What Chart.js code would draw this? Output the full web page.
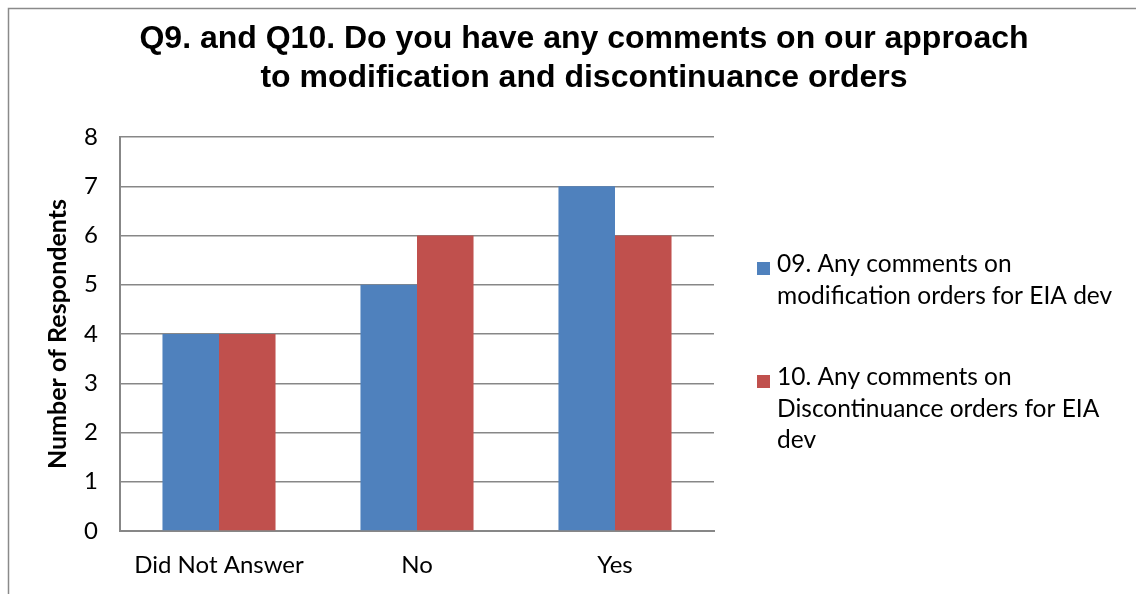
<!DOCTYPE html>
<html>
<head>
<meta charset="utf-8">
<script src="https://cdn.jsdelivr.net/npm/chart.js@4/dist/chart.umd.min.js"></script>
<style>
    body { margin: 0; overflow: hidden; background: #fff; }
    canvas { display: block; }
</style>
</head>
<body>
<canvas id="survey-chart" width="1168" height="594"></canvas>
<script>
    const categories = ['Did Not Answer', 'No', 'Yes']
    const modificationCounts = [4, 5, 7]
    const discontinuanceCounts = [4, 6, 6]
    const modificationLabel = ['09. Any comments on', 'modification orders for EIA dev']
    const discontinuanceLabel = ['10. Any comments on', 'Discontinuance orders for EIA', 'dev']
    const titleLines = ['Q9. and Q10. Do you have any comments on our approach', 'to modification and discontinuance orders']
    const yMin = 0
    const yMax = 8

    const bodyFont = '"Lato", "Open Sans", sans-serif'
    const gridColor = '#878787'

    // outer frame, title and the wrapped legend are drawn by hand
    const decorations = {
        id: 'decorations',
        beforeDraw(chart) {
            let ctx = chart.ctx
            ctx.save()
            ctx.fillStyle = '#fff'
            ctx.fillRect(0, 0, chart.width, chart.height)
            ctx.strokeStyle = '#8a8a8a'
            ctx.lineWidth = 1.5
            ctx.strokeRect(8.5, 8.5, 2000, 2000)
            ctx.restore()
        },
        afterDraw(chart) {
            let ctx = chart.ctx
            ctx.save()
            ctx.fillStyle = '#000'
            ctx.textAlign = 'center'
            ctx.textBaseline = 'alphabetic'
            ctx.font = 'bold 32px "Liberation Sans", Arial, sans-serif'
            titleLines.forEach((line, i) => ctx.fillText(line, 584, 48 + i * 39))

            ctx.textAlign = 'left'
            ctx.font = '24.5px ' + bodyFont
            let tops = [272, 385]
            chart.data.datasets.forEach((ds, i) => {
                ctx.fillStyle = ds.backgroundColor
                ctx.fillRect(757, tops[i] - 10, 13, 13)
                ctx.fillStyle = '#000'
                ds.label.forEach((line, j) => ctx.fillText(line, 777, tops[i] + j * 31.5))
            })
            ctx.restore()
        }
    }

    let chartElement = document.getElementById('survey-chart').getContext('2d')

    let surveyChart = new Chart(chartElement, {
        type: 'bar',
        data: {
            labels: categories,
            datasets: [
                {
                    label: modificationLabel,
                    data: modificationCounts,
                    backgroundColor: '#4F81BD'
                },
                {
                    label: discontinuanceLabel,
                    data: discontinuanceCounts,
                    backgroundColor: '#C0504D'
                }
            ]
        },
        options: {
            responsive: false,
            animation: false,
            layout: { padding: { top: 137, right: 454, bottom: 0, left: 0 } },
            datasets: {
                bar: { categoryPercentage: 0.571, barPercentage: 1 }
            },
            plugins: {
                legend: { display: false },
                title: { display: false },
                tooltip: { enabled: false }
            },
            scales: {
                x: {
                    grid: { display: false, drawTicks: false },
                    border: { display: true, color: gridColor, width: 2 },
                    ticks: { color: '#000', padding: 20, font: { family: bodyFont, size: 24 } },
                    afterFit(scale) { scale.height = 63 }
                },
                y: {
                    min: yMin,
                    max: yMax,
                    ticks: { stepSize: 1, color: '#000', padding: 22, font: { family: bodyFont, size: 24 } },
                    grid: { color: gridColor, lineWidth: 1.5, drawTicks: false },
                    border: { display: true, color: gridColor, width: 2 },
                    title: {
                        display: true,
                        text: 'Number of Respondents',
                        color: '#000',
                        font: { family: bodyFont, size: 25, weight: 'bold' },
                        padding: { top: 43, bottom: 0 }
                    },
                    afterFit(scale) { scale.width = 120 }
                }
            }
        },
        plugins: [decorations]
    })
</script>
</body>
</html>
